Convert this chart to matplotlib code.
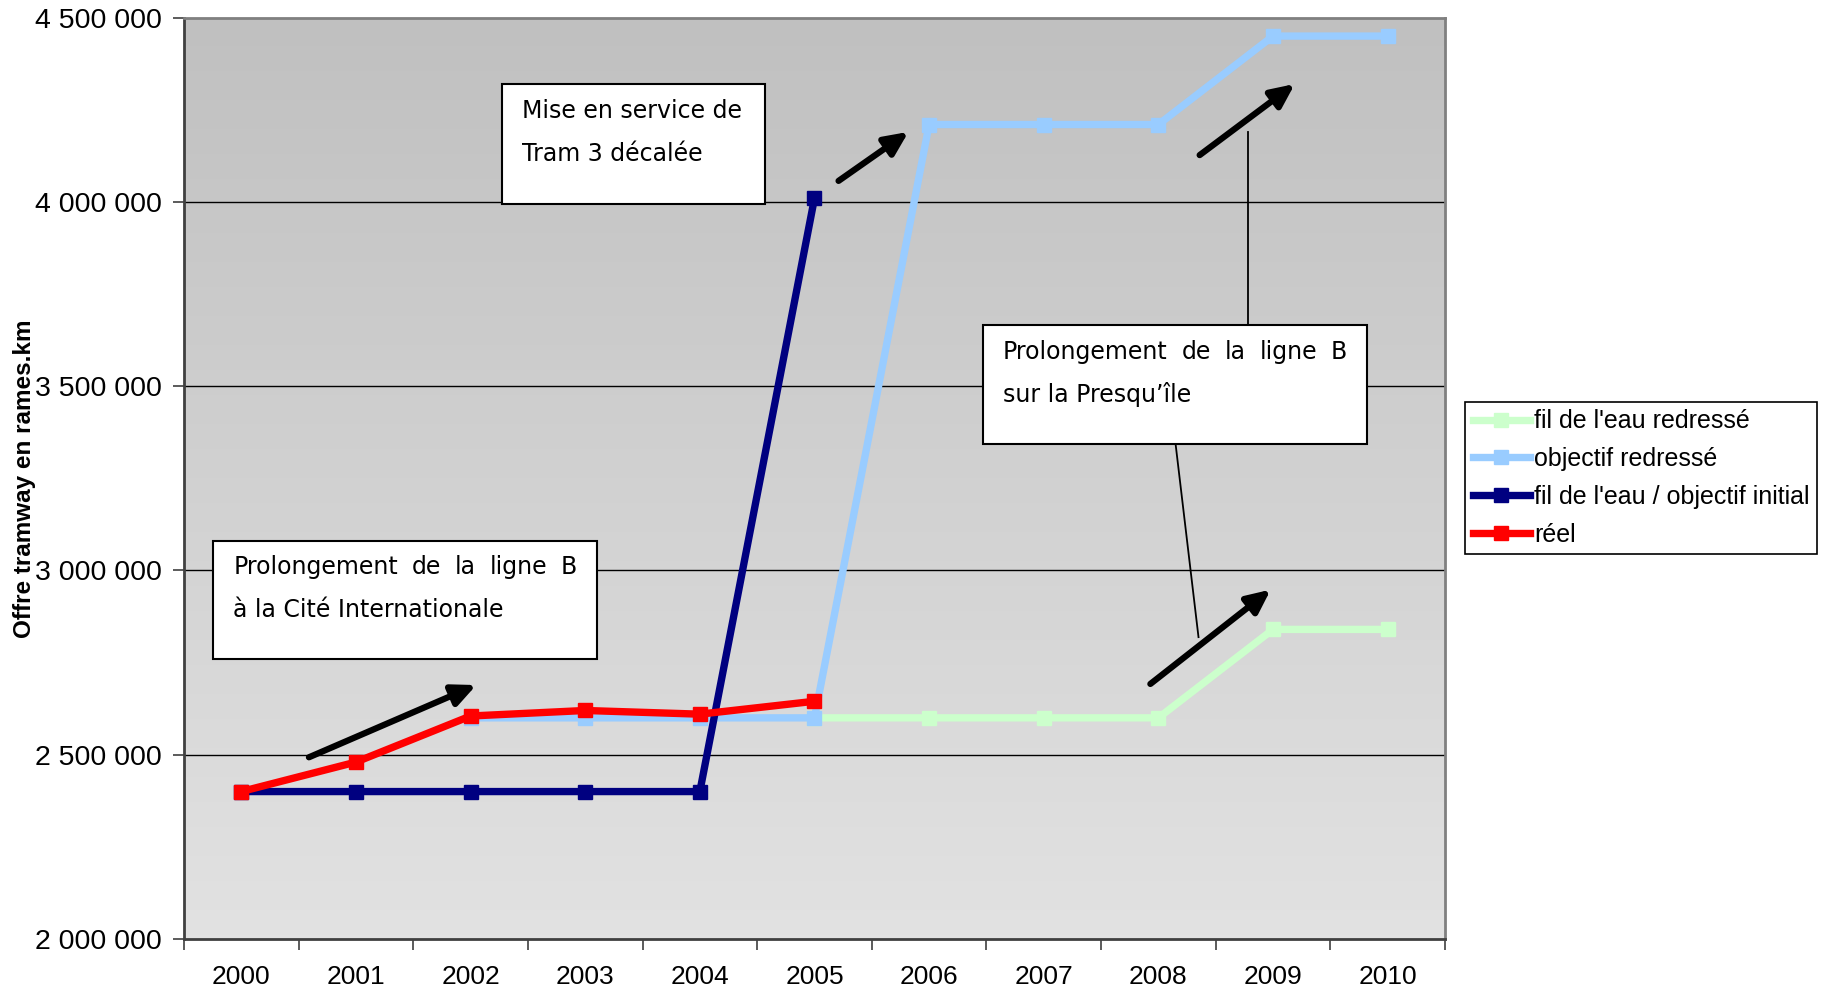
import numpy as np
import matplotlib.pyplot as plt
from matplotlib.patches import Rectangle
from matplotlib.colors import LinearSegmentedColormap

# Offre tramway (rames.km)
annees = ['2000', '2001', '2002', '2003', '2004', '2005',
          '2006', '2007', '2008', '2009', '2010']

idx_fil_redresse = [5, 6, 7, 8, 9, 10]
fil_redresse = [2600000, 2600000, 2600000, 2600000, 2840000, 2840000]

idx_obj_redresse = [2, 3, 4, 5, 6, 7, 8, 9, 10]
obj_redresse = [2600000, 2600000, 2600000, 2600000,
                4210000, 4210000, 4210000, 4450000, 4450000]

idx_initial = [0, 1, 2, 3, 4, 5]
initial = [2400000, 2400000, 2400000, 2400000, 2400000, 4010000]

idx_reel = [0, 1, 2, 3, 4, 5]
reel = [2400000, 2480000, 2605000, 2620000, 2610000, 2645000]

noms = ["fil de l'eau redressé", "objectif redressé",
        "fil de l'eau / objectif initial", "réel"]
couleurs = ['#ccffcc', '#99ccff', '#000080', '#ff0000']

yticks = [2000000, 2500000, 3000000, 3500000, 4000000, 4500000]


def fmt(v):
    return f"{v:,}".replace(',', ' ')


fig = plt.figure(figsize=(18.27, 9.91), dpi=100)
ax = fig.add_axes([0.1007, 0.0525, 0.6902, 0.9297])

# fond en dégradé
grad = np.linspace(0, 1, 256).reshape(-1, 1)
ax.imshow(grad, extent=[0, 1, 0, 1], transform=ax.transAxes, aspect='auto',
          cmap=LinearSegmentedColormap.from_list('g', ['#c0c0c0', '#e2e2e2']),
          zorder=0, origin='upper')

for y in yticks[1:-1]:
    ax.axhline(y, color='black', lw=1, zorder=1)

series = [(idx_fil_redresse, fil_redresse), (idx_obj_redresse, obj_redresse),
          (idx_initial, initial), (idx_reel, reel)]
for (xs, ys), nom, c in zip(series, noms, couleurs):
    ax.plot(xs, ys, color=c, lw=5.3, marker='s', ms=10, mec=c, mfc=c,
            label=nom, zorder=3, solid_joinstyle='round')

ax.set_xlim(-0.5, 10.5)
ax.set_ylim(2000000, 4500000)
ax.set_xticks(range(len(annees)))
ax.set_xticklabels(annees, fontsize=19, family='Liberation Sans')
ax.set_xticks(np.arange(-0.5, 10.6, 1), minor=True)
ax.tick_params(axis='x', which='major', length=0, pad=19)
ax.tick_params(axis='x', which='minor', length=8, width=1.2, color='#404040')
ax.set_yticks(yticks)
ax.set_yticklabels([fmt(v) for v in yticks], fontsize=20.5,
                   family='Liberation Sans')
ax.tick_params(axis='y', length=8, width=1.2, color='#404040', pad=8)

ax.set_ylabel('Offre tramway en rames.km', fontsize=17.5, fontweight='bold',
              family='Liberation Sans')
ax.yaxis.set_label_coords(-0.117, 0.5)

for s in ['left', 'bottom']:
    ax.spines[s].set_color('#404040')
    ax.spines[s].set_linewidth(2)
for s in ['top', 'right']:
    ax.spines[s].set_color('#808080')
    ax.spines[s].set_linewidth(2)

# flèches
fleches = [((0.59, 2493000), (2.05, 2689000)),
           ((5.21, 4057000), (5.82, 4190000)),
           ((8.36, 4127000), (9.19, 4320000)),
           ((7.93, 2692000), (8.98, 2948000))]
for a, b in fleches:
    ax.annotate('', xy=b, xytext=a, zorder=4,
                arrowprops=dict(arrowstyle='-|>,head_length=1.4,head_width=0.65',
                                lw=4.5, color='black', shrinkA=0, shrinkB=0))

# traits de rappel
ax.plot([8.78, 8.78], [4190000, 3666000], color='black', lw=1.3, zorder=4)
ax.plot([8.15, 8.35], [3343000, 2819000], color='black', lw=1.3, zorder=4)

# encadrés : (x0, y0, x1, y1), lignes, première ligne justifiée ?
encadres = [((2.27, 3994000, 4.57, 4320000),
             ['Mise en service de', 'Tram 3 décalée'], False),
            ((6.47, 3343000, 9.82, 3666000),
             ['Prolongement de la ligne B', 'sur la Presqu\u2019île'], True),
            ((-0.244, 2759000, 3.106, 3081000),
             ['Prolongement de la ligne B', 'à la Cité Internationale'], True)]

renderer = fig.canvas.get_renderer()
inv = ax.transData.inverted()
marge = 0.175
for (x0, y0, x1, y1), lignes, justif in encadres:
    ax.add_patch(Rectangle((x0, y0), x1 - x0, y1 - y0, facecolor='white',
                           edgecolor='black', lw=1.5, zorder=5))
    h = y1 - y0
    for k, t in enumerate(lignes):
        yy = y1 - h * (0.225 + 0.36 * k)
        style = dict(fontsize=17, family='DejaVu Sans', va='center',
                     ha='left', zorder=6)
        if justif and k == 0:
            mots = t.split()
            txts = [ax.text(x0 + marge, yy, m, **style) for m in mots]
            larg = []
            for tx in txts:
                bb = tx.get_window_extent(renderer)
                p0 = inv.transform((bb.x0, bb.y0))
                p1 = inv.transform((bb.x1, bb.y0))
                larg.append(p1[0] - p0[0])
            dispo = (x1 - marge) - (x0 + marge)
            esp = (dispo - sum(larg)) / (len(mots) - 1)
            xc = x0 + marge
            for tx, w in zip(txts, larg):
                tx.set_x(xc)
                xc += w + esp
        else:
            ax.text(x0 + marge, yy, t, **style)

leg = ax.legend(loc='upper left', bbox_to_anchor=(1.016, 0.583),
                borderaxespad=0, fancybox=False, framealpha=1,
                edgecolor='black', prop={'family': 'Liberation Sans', 'size': 18},
                handlelength=2.3, handletextpad=0.15, labelspacing=0.55,
                borderpad=0.3)
leg.get_frame().set_linewidth(1.2)

fig.savefig('out.png', dpi=100)
